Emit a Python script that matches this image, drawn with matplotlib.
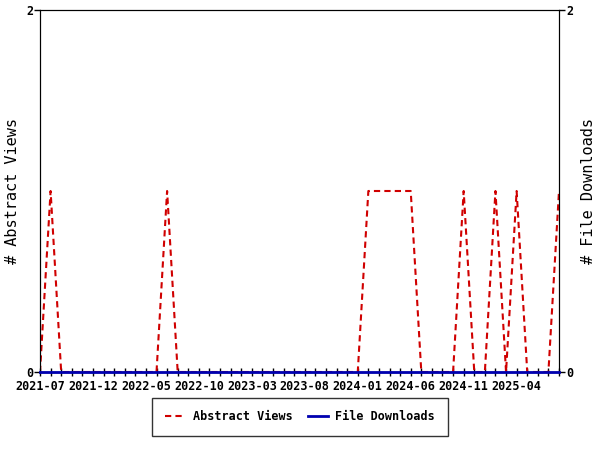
import matplotlib
matplotlib.use('Agg')
import matplotlib.pyplot as plt
from matplotlib.ticker import MultipleLocator

# monthly series, 2021-07 .. 2025-08
months = ['2021-07', '2021-08', '2021-09', '2021-10', '2021-11', '2021-12',
          '2022-01', '2022-02', '2022-03', '2022-04', '2022-05', '2022-06',
          '2022-07', '2022-08', '2022-09', '2022-10', '2022-11', '2022-12',
          '2023-01', '2023-02', '2023-03', '2023-04', '2023-05', '2023-06',
          '2023-07', '2023-08', '2023-09', '2023-10', '2023-11', '2023-12',
          '2024-01', '2024-02', '2024-03', '2024-04', '2024-05', '2024-06',
          '2024-07', '2024-08', '2024-09', '2024-10', '2024-11', '2024-12',
          '2025-01', '2025-02', '2025-03', '2025-04', '2025-05', '2025-06',
          '2025-07', '2025-08']
abstract_views = [0, 1, 0, 0, 0, 0, 0, 0, 0, 0, 0, 0,
                  1, 0, 0, 0, 0, 0, 0, 0, 0, 0, 0, 0,
                  0, 0, 0, 0, 0, 0, 0, 1, 1, 1, 1, 1,
                  0, 0, 0, 0, 1, 0, 0, 1, 0, 1, 0, 0,
                  0, 1]
file_downloads = [0] * len(months)

plt.rcParams['font.family'] = ['DejaVu Sans Mono']
plt.rcParams['font.weight'] = 'bold'
plt.rcParams['font.size'] = 8.5

fig = plt.figure(figsize=(6, 4.5), dpi=100)
ax = fig.add_axes([40 / 600, 1 - 372 / 450, 519 / 600, 362 / 450])
x = list(range(len(months)))

l1, = ax.plot(x, abstract_views, color='#d00000', linestyle=(0, (3, 2)), lw=1.5,
              label='Abstract Views')
ax2 = ax.twinx()
l2, = ax2.plot(x, file_downloads, color='#0000b0', lw=2, label='File Downloads',
               clip_on=False, zorder=5)

for a in (ax, ax2):
    a.set_xlim(0, len(months) - 1)
    a.set_ylim(0, 2)
    a.set_yticks([0, 2])
    a.tick_params(axis='y', length=4, width=1, pad=1)

ax.set_xticks(range(0, len(months), 5))
ax.set_xticklabels(months[::5])
ax.xaxis.set_minor_locator(MultipleLocator(1))
ax.tick_params(axis='x', which='both', direction='inout', length=6, width=1, pad=3)

ax.set_ylabel('# Abstract Views', fontsize=11, labelpad=4)
ax2.set_ylabel('# File Downloads', fontsize=11, labelpad=6)

fig.legend([l1, l2], ['Abstract Views', 'File Downloads'], loc='center',
           bbox_to_anchor=(300 / 600, 1 - 417 / 450), ncol=2, frameon=True,
           fancybox=False, edgecolor='black', borderpad=1.1, handlelength=1.7,
           handletextpad=0.6, columnspacing=1.3)

fig.savefig('out.png', dpi=100)
